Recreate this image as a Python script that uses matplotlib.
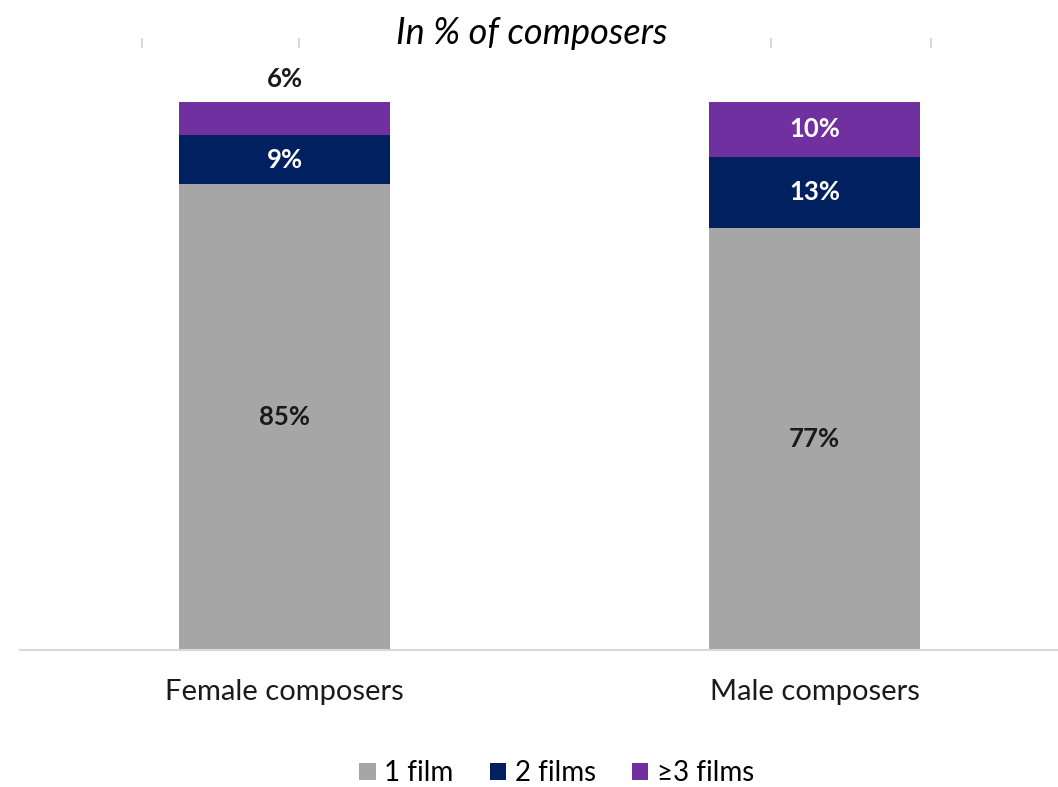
import matplotlib.pyplot as plt
import numpy as np

categories = ['Female composers', 'Male composers']
series = ['1 film', '2 films', '\u22653 films']
one_film = [85, 77]
two_films = [9, 13]
three_plus = [6, 10]
colors = ['#A6A6A6', '#002060', '#7030A0']

plt.rcParams['font.family'] = ['Lato', 'DejaVu Sans']

fig = plt.figure(figsize=(10.58, 7.87), dpi=100)
ax = fig.add_axes([20 / 1058, 1 - 650 / 787, 1 - 20 / 1058, (650 - 102) / 787])

x = np.arange(len(categories))
width = 0.398
values = [one_film, two_films, three_plus]
bottom = np.zeros(len(categories))
for name, vals, col in zip(series, values, colors):
    ax.bar(x, vals, width, bottom=bottom, color=col, label=name)
    for xi, v, b in zip(x, vals, bottom):
        if col == colors[0]:
            ax.text(xi, b + v / 2, f'{v}%', ha='center', va='center',
                    fontsize=18.5, fontweight='bold', color='#1a1a1a')
        elif v < 7:
            # too thin for the label, put it above the bar
            ax.text(xi, b + v + 2.0, f'{v}%', ha='center', va='bottom',
                    fontsize=18.5, fontweight='bold', color='#1a1a1a')
        else:
            ax.text(xi, b + v / 2, f'{v}%', ha='center', va='center',
                    fontsize=18.5, fontweight='bold', color='white')
    bottom += np.array(vals)

ax.set_xlim(-0.499, 1.459)
ax.set_ylim(0, 100)
ax.set_yticks([])
ax.set_xticks(x)
ax.set_xticklabels(categories, fontsize=21, color='#1a1a1a')
ax.tick_params(axis='x', length=0, pad=21)
for s in ['top', 'left', 'right']:
    ax.spines[s].set_visible(False)
ax.spines['bottom'].set_color('#D9D9D9')
ax.spines['bottom'].set_linewidth(1.5)

# faint tick marks along the top
top = ax.secondary_xaxis(1.117)
top.set_xticks([-0.268, 0.028, 0.325, 0.621, 0.917, 1.219])
top.set_xticklabels([])
top.tick_params(length=7.2, color='#D9D9D9', width=1.5, direction='in')
top.spines['top'].set_visible(False)

fig.text(0.503, 0.958, 'In % of composers', ha='center', va='center',
         fontsize=26, style='italic', color='black',
         bbox=dict(facecolor='white', edgecolor='none', pad=1))

ax.legend(loc='center', bbox_to_anchor=(0.517, -0.225), ncol=3, frameon=False,
          fontsize=20, handlelength=0.6, handleheight=0.6, handletextpad=0.3,
          columnspacing=1.3)

fig.savefig('out.png', dpi=100)
